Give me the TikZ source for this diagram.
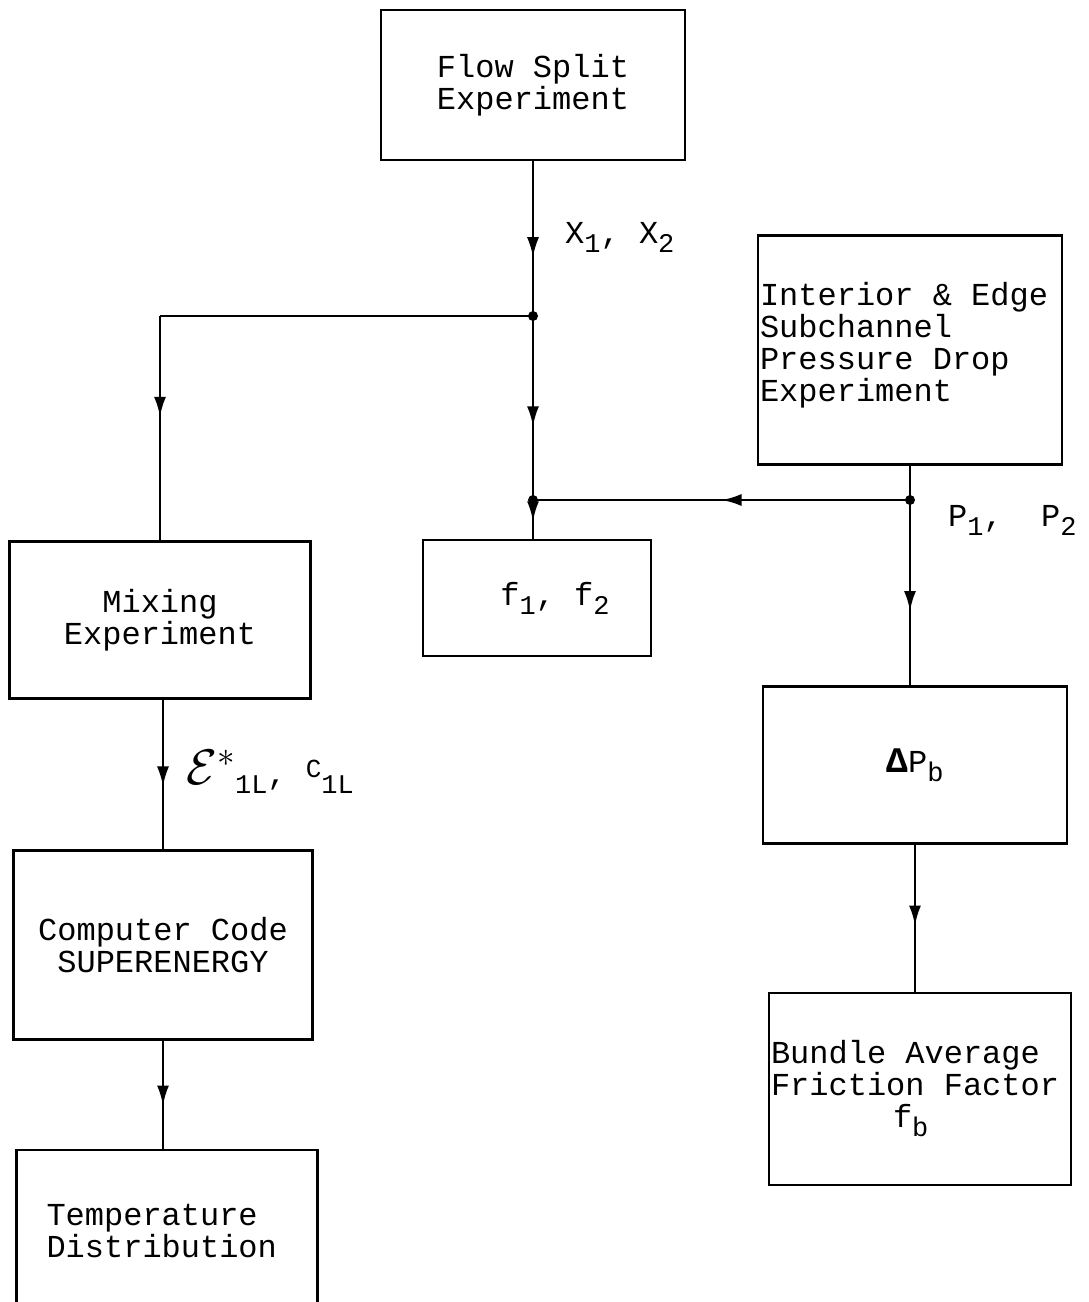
\RequirePackage{fix-cm}
\documentclass[tikz,border=0pt]{standalone}
\usepackage{fontspec}
\setmainfont{Liberation Mono}[WordSpace={1,0,0}]
\usetikzlibrary{arrows.meta,decorations.markings}

\newcommand{\lowtxt}[1]{\raisebox{-9pt}{\fontsize{27}{27}\selectfont #1}}
\newcommand{\hightxt}[1]{\raisebox{7pt}{\fontsize{26}{26}\selectfont #1}}
\newcommand{\monosp}{\spaceskip=0pt\xspaceskip=0pt\relax}

\begin{document}
\begin{tikzpicture}[x=1pt, y=-1pt,
      box/.style={draw, line width=2.6pt, inner sep=2pt, align=center, font=\fontsize{32}{32}\selectfont}, % Cajas del diagrama
      lbl/.style={anchor=west, inner sep=0pt, font=\fontsize{32}{32}\selectfont},
      line/.style={line width=2.6pt},
      midarrow/.style={line, postaction={decorate}, decoration={markings, mark=at position #1 with {\arrow{Latex[length=20pt,width=12pt]}}}}
    ]
    \useasboundingbox (0,0) rectangle (1089,1302);
    \clip (0,0) rectangle (1089,1302);
    % Experiments
    \node [box, minimum width=304pt, minimum height=150pt] (flowsplit) at (533,85) {Flow Split\\Experiment};
    \node [box, text width=300pt, align=left, minimum height=229pt] (interior) at (910,350) {\monosp Interior \& Edge\\Subchannel\\Pressure Drop\\Experiment\\[-16pt]\mbox{}};
    \node [box, minimum width=301pt, minimum height=157pt] (mixing) at (160,620) {Mixing\\Experiment};
    % Results
    \node [box, minimum width=228pt, minimum height=116pt] (ffric) at (537,598) {\hspace*{36pt}f\lowtxt{1}, f\lowtxt{2}};
    \node [box, minimum width=304pt, minimum height=157pt] (dpb) at (915,765) {{\bfseries\fontsize{36}{36}\selectfont Δ}P\lowtxt{b}};
    \node [box, minimum width=299pt, minimum height=189pt] (ccode) at (163,945) {Computer Code\\SUPERENERGY};
    \node [box, text width=298pt, align=left, minimum height=192pt] (bundle) at (920,1089) {\monosp Bundle Average\\Friction Factor\\\hspace*{122pt}f\lowtxt{b}};
    \node [box, text width=241pt, align=left, inner xsep=30pt, minimum height=162pt] (tempdist) at (167,1231) {\monosp Temperature\\Distribution};
    % Branch points
    \coordinate (xsplit) at (flowsplit.south |- 0,316);
    \coordinate (pmerge) at (flowsplit.south |- 0,500);
    \coordinate (pfork) at (interior.south |- 0,500);
    \coordinate (mixcorner) at (mixing.north |- xsplit);
    % Connectors
    \draw [midarrow=0.62] (flowsplit.south) -- (xsplit);
    \draw [line] (xsplit) -- (mixcorner);
    \draw [midarrow=0.45] (mixcorner) -- (mixing.north);
    \draw [midarrow=0.6] (xsplit) -- (pmerge);
    \draw [midarrow=0.55] (pmerge) -- (pmerge |- ffric.north);
    \draw [line] (interior.south) -- (pfork);
    \draw [midarrow=0.5] (pfork) -- (pmerge);
    \draw [midarrow=0.6] (pfork) -- (pfork |- dpb.north);
    \draw [midarrow=0.58] (ccode.north |- mixing.south) -- (ccode.north);
    \draw [midarrow=0.6] (ccode.south) -- (ccode.south |- tempdist.north);
    \draw [midarrow=0.55] (dpb.south) -- (dpb.south |- bundle.north);
    \foreach \pt in {xsplit, pmerge, pfork}
      \fill (\pt) circle (5pt);
    % Labels
    \node [lbl] (xlbl) at (565,237) {X\lowtxt{1}, X\lowtxt{2}};
    \node [lbl] (plbl) at (948,520) {P\lowtxt{1},~~P\lowtxt{2}};
    \node [lbl] (elbl) at (186,772) {{\fontsize{50}{50}\selectfont$\mathcal{E}^{*}$}\lowtxt{1L}, \hightxt{C}\lowtxt{1L}};
    \end{tikzpicture}
\end{document}
